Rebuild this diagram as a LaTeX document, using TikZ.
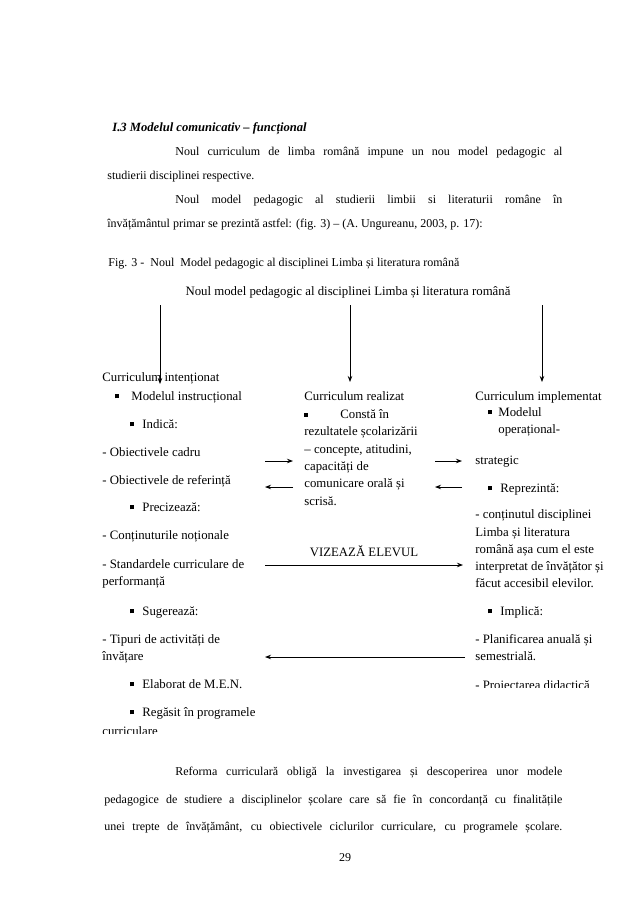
\documentclass[tikz,border=0pt]{standalone}
\usepackage{fontspec}
\setmainfont{Liberation Serif}
\usetikzlibrary{positioning, arrows.meta}
\newcommand\sq{\rule[1.6pt]{4pt}{4pt}}
\newcommand\jl[2]{\hbox to #1{#2}}
\newcommand\bodyfont{\fontsize{12}{14}\selectfont}
\newcommand\figfont{\fontsize{12.8}{15}\selectfont}

\begin{document}
\begin{tikzpicture}[x=1pt, y=-1pt, thick, >={Stealth[length=6pt, width=4.5pt]},
    txt/.style={anchor=west, inner sep=0pt, text height=9pt, text depth=3pt, font=\figfont},
    body/.style={anchor=west, inner sep=0pt, text height=9pt, text depth=3pt, font=\bodyfont},
    arr/.style={->, line width=0.9pt}]
    \useasboundingbox[fill=white] (0,0) rectangle (638,903);

    \node[body, font=\fontsize{12.6}{14}\selectfont\bfseries\itshape] (head) at (112,128) {I.3 Modelul comunicativ -- funcțional};
    \node[body] (p1) at (175,152) {\jl{387pt}{Noul curriculum de limba română impune un nou model pedagogic al}};
    \node[body] (p2) at (107,176) {studierii disciplinei respective.};
    \node[body] (p3) at (175,200) {\jl{387pt}{Noul model pedagogic al studierii limbii si literaturii române în}};
    \node[body] (p4) at (107,224) {învățământul primar se prezintă astfel: (fig. 3) -- (A. Ungureanu, 2003, p. 17):};
    \node[body] (cap) at (108,263) {Fig. 3 -\ \ Noul\ \ Model pedagogic al disciplinei Limba și literatura română};

    \node[txt, anchor=center] (title) at (348,292) {Noul model pedagogic al disciplinei Limba și literatura română};

    % left column
    \node[txt] (l1) at (102,378) {Curriculum intenționat};
    \node[txt] (l2) at (115,397) {\sq\hspace{12pt}Modelul instrucțional};
    \node[txt] (l3) at (130,425) {\sq\hspace{8pt}Indică:};
    \node[txt] (l4) at (102,453) {- Obiectivele cadru};
    \node[txt] (l5) at (102,481) {- Obiectivele de referință};
    \node[txt] (l6) at (130,508) {\sq\hspace{8pt}Precizează:};
    \node[txt] (l7) at (102,536) {- Conținuturile noționale};
    \node[txt] (l8) at (102,565) {- Standardele curriculare de};
    \node[txt] (l9) at (102,582) {performanță};
    \node[txt] (l10) at (130,612) {\sq\hspace{8pt}Sugerează:};
    \node[txt] (l11) at (102,640) {- Tipuri de activități de};
    \node[txt] (l12) at (102,657) {învățare};
    \node[txt] (l13) at (130,685) {\sq\hspace{8pt}Elaborat de M.E.N.};
    \node[txt] (l14) at (130,713) {\sq\hspace{8pt}Regăsit în programele};
    \begin{scope}
        \clip (90,700) rectangle (300,733.5);
        \node[txt] (l15) at (102,732.5) {curriculare};
    \end{scope}

    % middle column
    \foreach \t [count=\i] in {Curriculum realizat, {\sq\hspace{32pt}Constă în}, rezultatele școlarizării,
        {-- concepte, atitudini,}, capacități de, comunicare orală și, scrisă.}
        \node[txt] (m\i) at (304,380.5+17.4*\i) {\t};
    \node[txt, anchor=center] (viz) at (364,553) {VIZEAZĂ ELEVUL};

    % right column
    \node[txt] (r1) at (475,397) {Curriculum implementat};
    \node[txt] (r2) at (488,413) {\sq\hspace{6pt}Modelul};
    \node[txt] (r3) at (498,430) {operațional-};
    \node[txt] (r4) at (475,461) {strategic};
    \node[txt] (r5) at (488,489) {\sq\hspace{8pt}Reprezintă:};
    \foreach \t [count=\i] in {- conținutul disciplinei, Limba și literatura, română așa cum el este,
        interpretat de învățător și, făcut accesibil elevilor.}
        \node[txt] (rc\i) at (475,498.6+17.2*\i) {\t};
    \node[txt] (r6) at (488,612) {\sq\hspace{8pt}Implică:};
    \node[txt] (r7) at (475,640) {- Planificarea anuală și};
    \node[txt] (r8) at (475,657) {semestrială.};
    \begin{scope}
        \clip (465,670) rectangle (615,687);
        \node[txt] (r9) at (475,686) {- Proiectarea didactică};
    \end{scope}

    % arrows
    \coordinate (tl) at (160,305);  \coordinate (hl) at (160,384);
    \coordinate (tm) at (350,305);  \coordinate (hm) at (350,382);
    \coordinate (tr) at (542,305);  \coordinate (hr) at (542,382);
    \draw[arr] (tl) -- (hl);
    \draw[arr] (tm) -- (hm);
    \draw[arr] (tr) -- (hr);
    \coordinate (a1) at (265,461);  \coordinate (b1) at (293,461);
    \coordinate (a2) at (265,487);  \coordinate (b2) at (293,487);
    \coordinate (a3) at (435,461);  \coordinate (b3) at (462,461);
    \coordinate (a4) at (435,487);  \coordinate (b4) at (462,487);
    \draw[arr] (a1) -- (b1);
    \draw[arr] (b2) -- (a2);
    \draw[arr] (a3) -- (b3);
    \draw[arr] (b4) -- (a4);
    \coordinate (v1) at (265,565);  \coordinate (v2) at (463,565);
    \draw[arr] (v1) -- (v2);
    \coordinate (w1) at (465,657);  \coordinate (w2) at (265,657);
    \draw[arr] (w1) -- (w2);

    \node[body] (q1) at (175,772) {\jl{387pt}{Reforma curriculară obligă la investigarea și descoperirea unor modele}};
    \node[body] (q2) at (104,800) {\jl{458pt}{pedagogice de studiere a disciplinelor școlare care să fie în concordanță cu finalitățile}};
    \node[body] (q3) at (104,827) {\jl{458pt}{unei trepte de învățământ, cu obiectivele ciclurilor curriculare, cu programele școlare.}};
    \node[body, anchor=center] (pg) at (345,858) {29};
\end{tikzpicture}
\end{document}
